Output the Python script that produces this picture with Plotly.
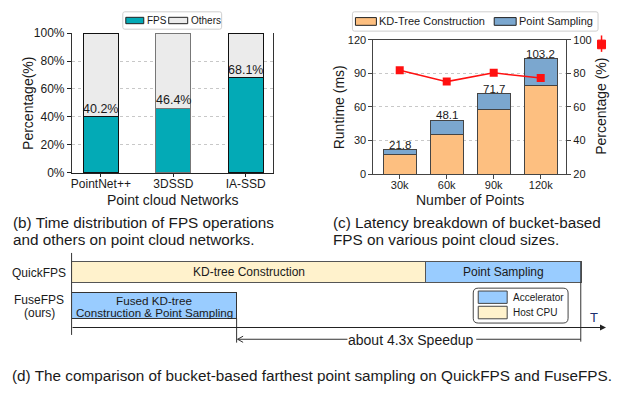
import plotly.graph_objects as go

W, H = 623, 394
FONT = "Liberation Sans, Arial, sans-serif"
TXT = "#1a1a1a"

# ---------------- data ----------------
# (b) time distribution
networks = ["PointNet++", "3DSSD", "IA-SSD"]
fps_pct = [40.2, 46.4, 68.1]
others_pct = [59.8, 53.6, 31.9]
fps_labels = ["40.2%", "46.4%", "68.1%"]
pct_ticks = [0, 20, 40, 60, 80, 100]
pct_ticktext = ["0%", "20%", "40%", "60%", "80%", "100%"]

# (c) latency breakdown
sizes = ["30k", "60k", "90k", "120k"]
kd_ms = [17.2, 35.6, 57.4, 79.5]
ps_ms = [4.6, 12.5, 14.3, 23.7]
total_ms = [21.8, 48.1, 71.7, 103.2]
kd_share = [81.8, 75.1, 80.3, 77.2]
ms_ticks = [0, 30, 60, 90, 120]
share_ticks = [20, 40, 60, 80, 100]

# (d) schematic timeline (arbitrary time units)
rows = [0, 1]
quick_kd = [354]
quick_ps = [156]
fuse_total = [165]

# ---------------- helpers ----------------
def X(px):
    return px / W


def Y(py):
    return 1 - py / H


def ann(text, x, y, size, xanchor="center", yanchor="middle", color=TXT, angle=0):
    return dict(text=text, x=X(x), y=Y(y), xref="paper", yref="paper", showarrow=False,
                font=dict(size=size, family=FONT, color=color), xanchor=xanchor,
                yanchor=yanchor, textangle=angle)


def rect(x0, y0, x1, y1, fill, line="#222", lw=1):
    return dict(type="rect", xref="paper", yref="paper", x0=X(x0), x1=X(x1), y0=Y(y0), y1=Y(y1),
                fillcolor=fill, line=dict(color=line, width=lw), layer="above")


def seg(x0, y0, x1, y1, color="#333", lw=1):
    return dict(type="line", xref="paper", yref="paper", x0=X(x0), x1=X(x1), y0=Y(y0), y1=Y(y1),
                line=dict(color=color, width=lw), layer="above")


def rrect(x0, y0, x1, y1, r, line="#444", lw=1, fill="white"):
    p = (f"M {X(x0+r)},{Y(y0)} L {X(x1-r)},{Y(y0)} Q {X(x1)},{Y(y0)} {X(x1)},{Y(y0+r)} "
         f"L {X(x1)},{Y(y1-r)} Q {X(x1)},{Y(y1)} {X(x1-r)},{Y(y1)} "
         f"L {X(x0+r)},{Y(y1)} Q {X(x0)},{Y(y1)} {X(x0)},{Y(y1-r)} "
         f"L {X(x0)},{Y(y0+r)} Q {X(x0)},{Y(y0)} {X(x0+r)},{Y(y0)} Z")
    return dict(type="path", xref="paper", yref="paper", path=p, fillcolor=fill,
                line=dict(color=line, width=lw), layer="above")


TEAL = "#03AAB6"
GREY = "#EBEBEB"
ORANGE = "#FDBF80"
BLUE = "#7BA7CF"
ACC = "#99CCFF"
CPU = "#FFF2CC"

fig = go.Figure()

# ---------------- (b) ----------------
edge_b = ["#111", "#777", "#111"]
fig.add_bar(x=networks, y=fps_pct, width=0.48, marker=dict(color=TEAL, line=dict(color=edge_b, width=1)),
            xaxis="x", yaxis="y", name="FPS")
fig.add_bar(x=networks, y=others_pct, width=0.48, marker=dict(color=GREY, line=dict(color=edge_b, width=1)),
            xaxis="x", yaxis="y", name="Others")

# ---------------- (c) ----------------
fig.add_bar(x=sizes, y=kd_ms, width=0.7, marker=dict(color=ORANGE, line=dict(color="#444", width=1)),
            xaxis="x2", yaxis="y2", name="KD-Tree Construction")
fig.add_bar(x=sizes, y=ps_ms, width=0.7, marker=dict(color=BLUE, line=dict(color="#444", width=1)),
            xaxis="x2", yaxis="y2", name="Point Sampling")
fig.add_scatter(x=sizes, y=kd_share, mode="lines+markers", line=dict(color="#FF1010", width=1.5),
                marker=dict(symbol="square", size=8, color="#FF1010"), xaxis="x2", yaxis="y3")

# ---------------- (d) ----------------
fig.add_bar(y=[rows[0]], x=quick_kd, base=[0], orientation="h", width=0.633,
            marker=dict(color=CPU, line=dict(color="#555", width=1)), xaxis="x3", yaxis="y4")
fig.add_bar(y=[rows[0]], x=quick_ps, base=quick_kd, orientation="h", width=0.633,
            marker=dict(color=ACC, line=dict(color="#555", width=1)), xaxis="x3", yaxis="y4")
fig.add_bar(y=[rows[1]], x=fuse_total, base=[0], orientation="h", width=0.805,
            marker=dict(color=ACC, line=dict(color="#333", width=1)), xaxis="x3", yaxis="y4")

tickfont = dict(family=FONT, size=12, color=TXT)
tickfont_c = dict(family=FONT, size=11, color=TXT)
grid = dict(showgrid=True, gridcolor="#c8c8c8", griddash="dot", gridwidth=0.8)

fig.update_layout(
    width=W, height=H, autosize=False, margin=dict(l=0, r=0, t=0, b=0),
    paper_bgcolor="white", plot_bgcolor="white", showlegend=False, barmode="stack",
    font=dict(family=FONT, color=TXT),
    xaxis=dict(domain=[X(71), X(272)], anchor="y", range=[-0.4, 2.37], showline=True, linecolor="#222",
               linewidth=1, ticks="outside", ticklen=3, tickcolor="#222", tickfont=tickfont, showgrid=False,
               ticklabelstandoff=-3),
    yaxis=dict(domain=[Y(172), Y(27)], anchor="x", range=[0, 100], tickvals=pct_ticks, ticktext=pct_ticktext,
               showline=True, mirror=True, linecolor="#333", linewidth=1, ticks="outside",
               ticklen=4, tickcolor="#222", tickfont=tickfont, zeroline=False, **grid),
    xaxis2=dict(domain=[X(373), X(566)], anchor="y2", range=[-0.56, 3.54], showline=True, mirror=True,
                linecolor="#444", linewidth=1, ticks="outside", ticklen=4, tickcolor="#444",
                tickfont=tickfont_c, showgrid=False, ticklabelstandoff=-3),
    yaxis2=dict(domain=[Y(173.3), Y(34)], anchor="x2", range=[0, 120], tickvals=ms_ticks,
                showline=True, linecolor="#444", linewidth=1, ticks="outside", ticklen=4, tickcolor="#444",
                tickfont=tickfont_c, zeroline=False, **grid),
    yaxis3=dict(domain=[Y(173.3), Y(34)], anchor="x2", overlaying="y2", side="right", range=[20, 100],
                tickvals=share_ticks, showline=True, linecolor="#444", linewidth=1,
                ticks="outside", ticklen=4, tickcolor="#444", tickfont=tickfont_c, showgrid=False,
                zeroline=False),
    xaxis3=dict(domain=[X(71), X(605)], anchor="y4", range=[0, 534], visible=False),
    yaxis4=dict(domain=[Y(348), Y(255)], anchor="x3", range=[2.122, -0.589], visible=False),
)

annotations = []
# data labels (b)
for n, v, t in zip(networks, fps_pct, fps_labels):
    annotations.append(dict(text=t, x=n, y=v, xref="x", yref="y", showarrow=False, yanchor="bottom",
                            yshift=-1, font=dict(family=FONT, size=12.5, color=TXT)))
# data labels (c)
for s, v in zip(sizes, total_ms):
    annotations.append(dict(text=f"{v}", x=s, y=v, xref="x2", yref="y2", showarrow=False, yanchor="bottom",
                            yshift=-3, font=dict(family=FONT, size=11.5, color=TXT)))

# axis titles
annotations += [
    ann("Percentage(%)", 27, 99.5, 14, angle=-90),
    ann("Point cloud Networks", 172, 200, 14),
    ann("Runtime (ms)", 338, 103.5, 14, angle=-90),
    ann("Percentage (%)", 601, 103.5, 14, angle=-90),
    ann("Number of Points", 470, 200, 14),
]
# legends (b), (c)
annotations += [
    ann("FPS", 144, 14, 10, xanchor="left"),
    ann("Others", 188, 14, 10, xanchor="left"),
    ann("KD-Tree Construction", 376.5, 15, 11, xanchor="left"),
    ann("Point Sampling", 516.5, 15, 11, xanchor="left"),
]
# captions
annotations += [
    ann("(b) Time distribution of FPS operations", 10, 223, 15.3, xanchor="left"),
    ann("and others on point cloud networks.", 10, 241, 15.3, xanchor="left"),
    ann("(c) Latency breakdown of bucket-based", 331, 223, 15.3, xanchor="left"),
    ann("FPS on various point cloud sizes.", 331, 241, 15.3, xanchor="left"),
    ann("(d) The comparison of bucket-based farthest point sampling on QuickFPS and FuseFPS.", 9, 382, 15.3,
        xanchor="left"),
]
# diagram text
annotations += [
    ann("QuickFPS", 38.5, 276, 12),
    ann("FuseFPS", 38.5, 304, 12),
    ann("(ours)", 38.5, 317, 12),
    dict(text="KD-tree Construction", x=quick_kd[0] / 2, y=rows[0], xref="x3", yref="y4", showarrow=False,
         font=dict(family=FONT, size=12, color=TXT)),
    dict(text="Point Sampling", x=quick_kd[0] + quick_ps[0] / 2, y=rows[0], xref="x3", yref="y4",
         showarrow=False, font=dict(family=FONT, size=12, color=TXT)),
    ann("Fused KD-tree", 153.5, 304, 11.7),
    ann("Construction & Point Sampling", 153.5, 317, 11.6),
    ann("Accelerator", 511, 301.5, 10, xanchor="left"),
    ann("Host CPU", 511, 317, 10, xanchor="left"),
    ann("T", 594, 322, 13, color="#1c2f6e"),
    ann("about 4.3x Speedup", 411, 345, 14),
    # time axis arrow
    dict(text="", x=X(606), y=Y(332.3), xref="paper", yref="paper", ax=-535, ay=0, showarrow=True,
         arrowhead=2, arrowsize=1, arrowwidth=1.2, arrowcolor="#222"),
]

shapes = [
    # legend (b)
    rrect(122, 5, 221, 23, 2, line="#cfcfcf"),
    rect(125, 10.7, 143, 17.3, TEAL),
    rect(168, 10.7, 187, 17.3, GREY),
    # legend (c)
    rrect(352, 5, 598, 25, 2, line="#cfcfcf"),
    rect(355, 11, 376, 19, ORANGE),
    rect(494, 11, 516, 19, BLUE),
    # cut-off red legend marker
    seg(601.5, 29.5, 601.5, 46.5, color="#FF1010", lw=1.5),
    rect(597.5, 34.3, 605.5, 43.3, "#FF1010", line="#FF1010"),
    # diagram lines
    seg(70.7, 255, 70.7, 340, color="#333"),
    seg(236, 323, 236, 348, color="#333"),
    seg(580.7, 264, 580.7, 347, color="#333"),
    seg(237, 344.5, 347, 344.5, color="#333"),
    seg(476, 344.5, 580.7, 344.5, color="#333"),
    seg(237, 344.5, 242.5, 341.3, color="#333"),
    seg(237, 344.5, 242.5, 347.7, color="#333"),
    # legend (d)
    rrect(473, 291.5, 568, 327.7, 5, line="#444"),
    rect(478, 294.5, 507, 307.3, ACC, line="#444"),
    rect(478, 310.3, 507, 323.3, CPU, line="#444"),
]

fig.update_layout(annotations=annotations, shapes=shapes)
fig.write_html("out.html", config={"displayModeBar": False},
               post_script="document.body.style.margin='0px';document.body.style.overflow='hidden';")
